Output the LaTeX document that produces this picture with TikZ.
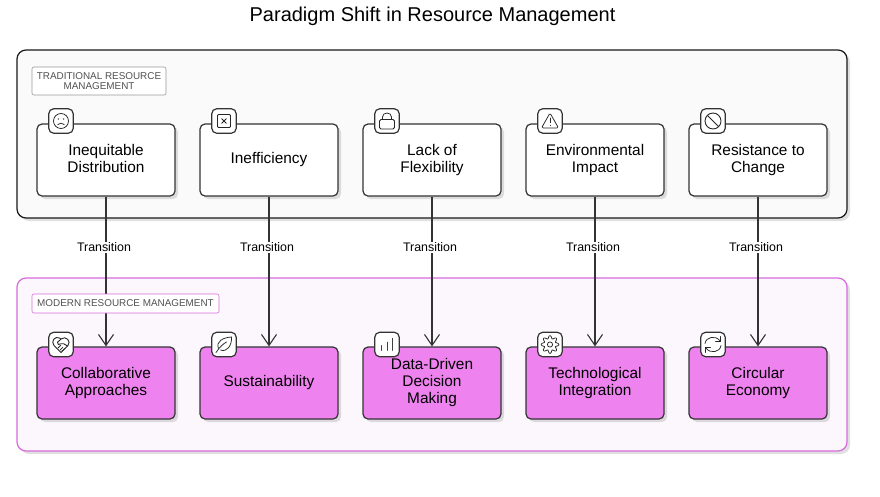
\documentclass[tikz,border=0pt]{standalone}
\usepackage{fontspec}
\setmainfont{Liberation Sans}
\usepackage{tikz}
\usetikzlibrary{arrows.meta,shadows}
\definecolor{darkline}{HTML}{333333}
\definecolor{greybg}{HTML}{FAFAFA}
\definecolor{violetfill}{HTML}{EE82EE}
\definecolor{violetline}{HTML}{D86BDB}
\definecolor{violetbg}{HTML}{FBF7FD}
\tikzset{
    softshadow/.style={drop shadow={shadow xshift=3pt,shadow yshift=-3pt,fill=black,opacity=.12}},
    groupbox/.style={rectangle,rounded corners=9pt,line width=1.2pt,minimum width=830pt,minimum height=168pt,softshadow},
    grouptag/.style={rectangle,draw,rounded corners=2pt,fill=white,line width=.6pt,align=center,text=black!68,font=\fontsize{9.9}{10.5}\selectfont,inner sep=0pt},
    oldbox/.style={rectangle,draw=darkline,fill=white,rounded corners=5pt,line width=1.2pt,minimum width=138pt,minimum height=72pt,align=center,font=\fontsize{15.4}{17}\selectfont,softshadow,execute at end node={\par\vspace{4pt}}},
    newbox/.style={oldbox,fill=violetfill},
    iconbox/.style={rectangle,draw=darkline,fill=white,rounded corners=5pt,line width=1.2pt,minimum size=24.5pt,inner sep=0pt},
    icon/.style={draw=black!85,line width=.75pt,line cap=round,line join=round},
    flow/.style={draw=darkline,line width=1.2pt,-{Straight Barb[length=11pt,width=15pt,line width=1.1pt]}},
    flowtext/.style={fill=white,inner sep=1pt,font=\fontsize{12.4}{14}\selectfont,text=black,pos=.338,xshift=-2pt}
}
\begin{document}
\begin{tikzpicture}[x=1pt,y=-1pt]
    \useasboundingbox[fill=white] (0,0) rectangle (880,496);

    \node[font=\fontsize{20}{24}\selectfont] (title) at (432.5,16) {Paradigm Shift in Resource Management};

    % the two groups
    \node[groupbox,draw=black!90,fill=greybg] (oldgroup) at (432,134) {};
    \node[groupbox,draw=violetline,fill=violetbg,minimum height=173pt] (newgroup) at (432,364.5) {};

    % upper row
    \node[oldbox] (old1) at (106,160) {Inequitable\\Distribution\vphantom{p}};
    \node[oldbox] (old2) at (269,160) {Inefficiency};
    \node[oldbox] (old3) at (432,160) {Lack of\\Flexibility};
    \node[oldbox] (old4) at (595,160) {Environmental\\Impact};
    \node[oldbox] (old5) at (758,160) {Resistance to\\Change};

    % lower row
    \node[newbox] (new1) at (106,383) {Collaborative\\Approaches};
    \node[newbox] (new2) at (269,383) {Sustainability};
    \node[newbox] (new3) at (432,383) {Data-Driven\\Decision\\Making};
    \node[newbox] (new4) at (595,383) {Technological\\Integration};
    \node[newbox] (new5) at (758,383) {Circular\\Economy};

    \draw[flow] (old1) -- node[flowtext] {Transition} (new1);
    \draw[flow] (old2) -- node[flowtext] {Transition} (new2);
    \draw[flow] (old3) -- node[flowtext] {Transition} (new3);
    \draw[flow] (old4) -- node[flowtext] {Transition} (new4);
    \draw[flow] (old5) -- node[flowtext] {Transition} (new5);

    \node[grouptag,draw=black!40,minimum width=134pt,minimum height=28pt] (oldtag) at (99,81) {TRADITIONAL RESOURCE\\MANAGEMENT};
    \node[grouptag,draw=violetline,minimum width=187pt,minimum height=19pt] (newtag) at (125.5,303.5) {MODERN RESOURCE MANAGEMENT};

    % icons on the upper row
    \node[iconbox] (icoold1) at (61,121) {};
    \begin{scope}[shift={(icoold1.center)},icon]
        \draw (0,0) circle (7.5);
        \fill[black!85] (-2.6,-2) circle (.7) (2.6,-2) circle (.7);
        \draw (-3.2,3.6) .. controls (-1.5,1.6) and (1.5,1.6) .. (3.2,3.6);
    \end{scope}
    \node[iconbox] (icoold2) at (224,121) {};
    \begin{scope}[shift={(icoold2.center)},icon]
        \draw[rounded corners=1pt] (-6.5,-6.5) rectangle (6.5,6.5);
        \draw[line width=1pt] (-2.2,-2.2) -- (2.2,2.2) (-2.2,2.2) -- (2.2,-2.2);
    \end{scope}
    \node[iconbox] (icoold3) at (387,121) {};
    \begin{scope}[shift={(icoold3.center)},icon]
        \draw[rounded corners=1.5pt] (-7.5,-1.5) rectangle (7.5,8);
        \draw (-4.5,-1.5) -- (-4.5,-4) .. controls (-4.5,-9.3) and (4.5,-9.3) .. (4.5,-4) -- (4.5,-1.5);
    \end{scope}
    \node[iconbox] (icoold4) at (550,121) {};
    \begin{scope}[shift={(icoold4.center)},icon]
        \draw[rounded corners=1.5pt] (0,-8) -- (8.5,7) -- (-8.5,7) -- cycle;
        \draw[line width=1pt] (0,-3) -- (0,1.5) (0,4.4) -- (0,4.5);
    \end{scope}
    \node[iconbox] (icoold5) at (713,121) {};
    \begin{scope}[shift={(icoold5.center)},icon]
        \draw[line width=.9pt] (0,0) circle (8);
        \draw[line width=.9pt] (-5.6,-5.6) -- (5.6,5.6);
    \end{scope}

    % icons on the lower row
    \node[iconbox] (iconew1) at (61,344.5) {};
    \begin{scope}[shift={(iconew1.center)},icon]
        \draw[line width=.9pt] (0,8) -- (-7,1) .. controls (-10.5,-3) and (-6,-9) .. (-1.5,-6.5) -- (0,-5.5) .. controls (5,-9.5) and (10.5,-3) .. (7,1) -- cycle;
        \draw[line width=.9pt] (0,-5.5) -- (-3.5,-2.2) .. controls (-4.5,0) and (-1.5,.8) .. (0.5,-.8) .. controls (2,-1.5) and (2.5,-.8) .. (6.5,1.5);
        \draw (-3,3.5) -- (-.5,1) (-.8,5.5) -- (1.8,2.8) (1,6.5) -- (3.5,4.2);
    \end{scope}
    \node[iconbox] (iconew2) at (224,344.5) {};
    \begin{scope}[shift={(iconew2.center)},icon]
        \draw (-5.5,4) .. controls (-8.5,-3) and (-1,-7) .. (7.5,-7.5) .. controls (8,1) and (3,8) .. (-3.5,5.5);
        \draw (-8,8) .. controls (-4,2) and (-1,-.5) .. (2.5,-2.5);
    \end{scope}
    \node[iconbox] (iconew3) at (387,344.5) {};
    \begin{scope}[shift={(iconew3.center)},icon]
        \draw[line width=.9pt,draw=black!75] (-5.3,6) -- (-5.3,1) (0,6) -- (0,-2.3) (5.3,6) -- (5.3,-6.2);
    \end{scope}
    \node[iconbox] (iconew4) at (550,344.5) {};
    \begin{scope}[shift={(iconew4.center)},icon]
        \draw plot[domain=0:360,variable=\x,samples=97,smooth] ({(7.4+1.5*cos(8*\x))*cos(\x)},{(7.4+1.5*cos(8*\x))*sin(\x)}) -- cycle;
        \draw (0,0) circle (2.6);
    \end{scope}
    \node[iconbox] (iconew5) at (713,344.5) {};
    \begin{scope}[shift={(iconew5.center)},icon]
        \draw (-8,-1) .. controls (-7,-8) and (3,-9.5) .. (7,-3.5);
        \draw (7.5,-8) -- (7.5,-3) -- (2.5,-3);
        \draw (8,1) .. controls (7,8) and (-3,9.5) .. (-7,3.5);
        \draw (-7.5,8) -- (-7.5,3) -- (-2.5,3);
    \end{scope}
\end{tikzpicture}
\end{document}
